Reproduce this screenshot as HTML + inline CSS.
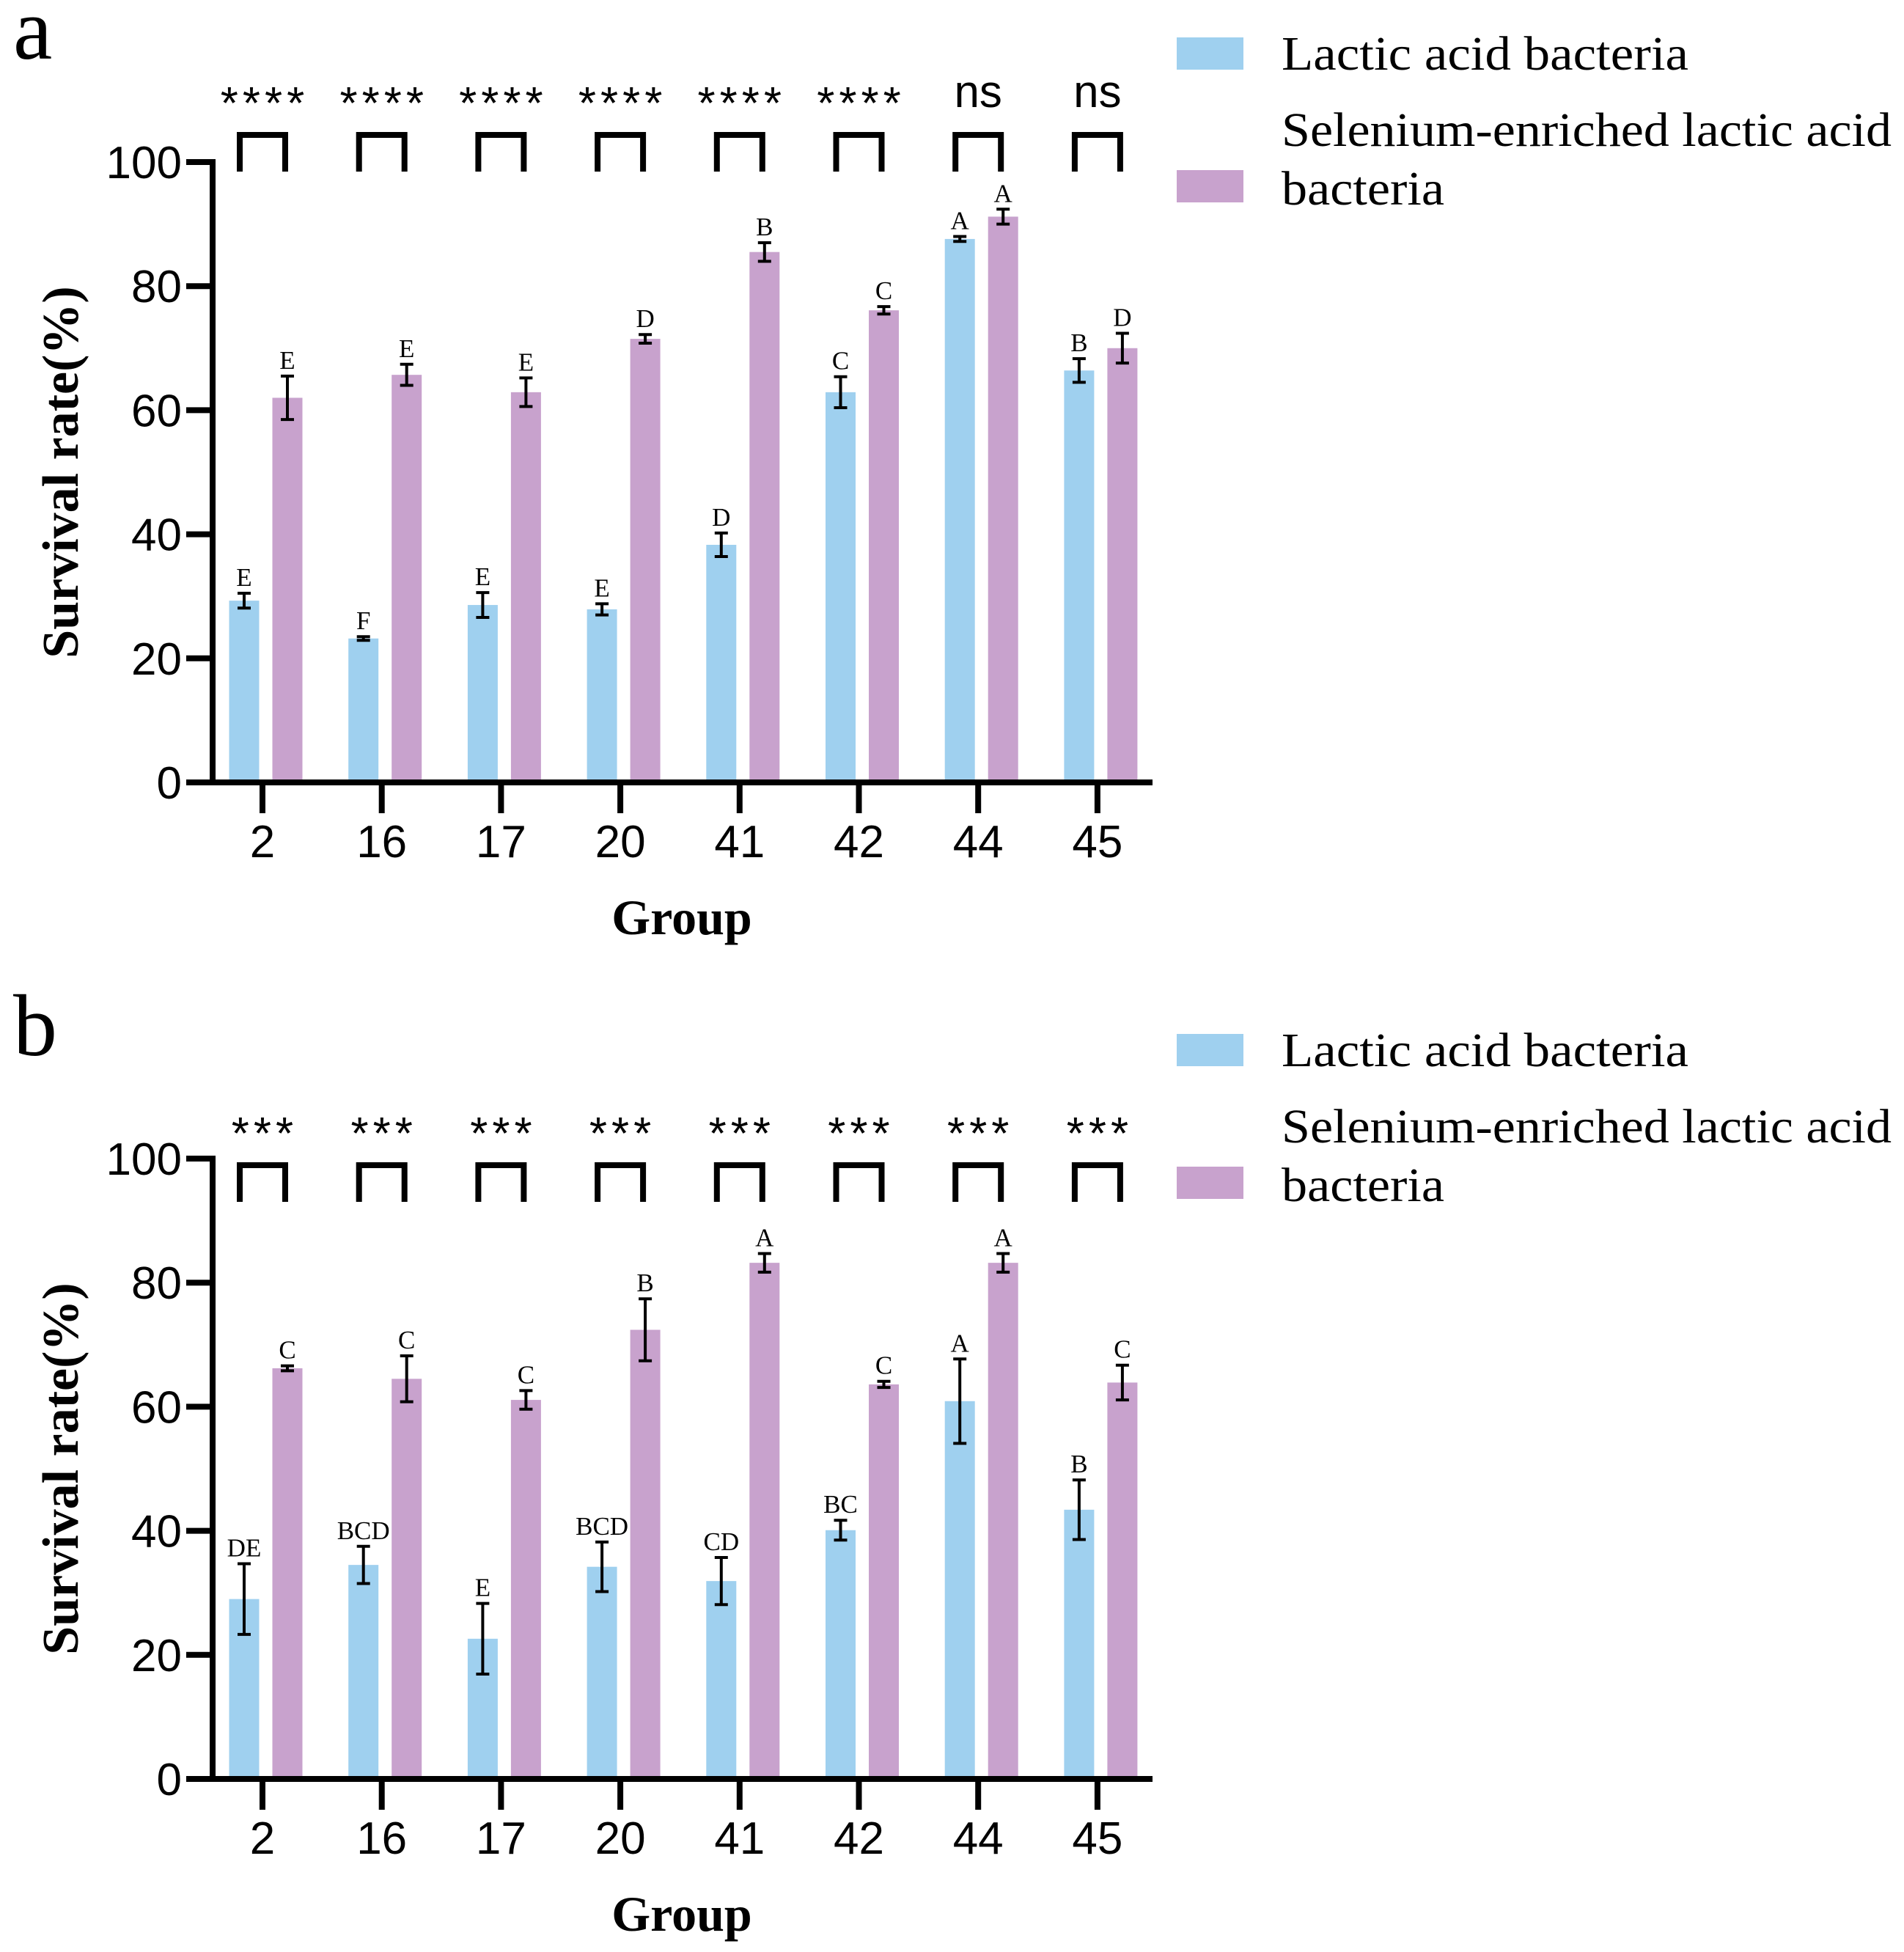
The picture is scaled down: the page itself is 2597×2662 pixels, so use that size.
<!DOCTYPE html>
<html><head><meta charset="utf-8">
<style>
html,body{margin:0;padding:0;background:#fff;}
svg{display:block;}
.tick{font-family:"Liberation Sans","DejaVu Sans",sans-serif;font-size:62px;fill:#000;}
.serif{font-family:"Liberation Serif",serif;fill:#000;}
</style></head>
<body>
<svg id="chart" width="2597" height="2662" viewBox="0 0 2597 2662" xmlns="http://www.w3.org/2000/svg"></svg>
<script>
const groups = ["2","16","17","20","41","42","44","45"];
const yTicks = [0,20,40,60,80,100];
const aBlue = [29.3,23.2,28.6,27.9,38.3,62.9,87.6,66.4];
const aBlueErr = [1.2,0.3,2.0,0.9,1.9,2.5,0.4,1.9];
const aPurple = [62.0,65.7,62.9,71.5,85.5,76.1,91.2,70.0];
const aPurpleErr = [3.5,1.7,2.3,0.7,1.5,0.6,1.2,2.4];
const aBlueLetters = ["E","F","E","E","D","C","A","B"];
const aPurpleLetters = ["E","E","E","D","B","C","A","D"];
const aSig = ["****","****","****","****","****","****","ns","ns"];
const bBlue = [29.0,34.5,22.6,34.2,31.9,40.1,60.9,43.4];
const bBlueErr = [5.7,3.0,5.7,4.0,3.8,1.6,6.8,4.8];
const bPurple = [66.2,64.5,61.1,72.4,83.2,63.6,83.2,63.9];
const bPurpleErr = [0.4,3.7,1.5,5.0,1.5,0.5,1.5,2.8];
const bBlueLetters = ["DE","BCD","E","BCD","CD","BC","A","B"];
const bPurpleLetters = ["C","C","C","B","A","C","A","C"];
const bSig = ["***","***","***","***","***","***","***","***"];

const NS = "http://www.w3.org/2000/svg";
const svg = document.getElementById("chart");
const BLUE = "#9fd0ef", PURPLE = "#c8a2cd";
function el(tag, attrs, parent, text){
  const e = document.createElementNS(NS, tag);
  for (const k in attrs) e.setAttribute(k, attrs[k]);
  if (text !== undefined) e.textContent = text;
  (parent || svg).appendChild(e);
  return e;
}

function panel(off, letter, blue, blueErr, purple, purpleErr, bl, pl, sig, bracketTop){
  const g = el("g", {});
  
  
  const y0 = 1067 + off, y100 = 221 + off, axX = 290;
  const yS = v => y0 - (y0 - y100) * v / 100;
  const xS = i => 358 + i * 162.7;

  const pl_ = el("text", {x: 18, y: 80 + off, class: "serif", "font-size": 120}, g, letter);
  
  

  groups.forEach((c, i) => {
    const cx = xS(i);
    [[blue, blueErr, bl, BLUE, -25, 'lactic'], [purple, purpleErr, pl, PURPLE, 34, 'selenium']].forEach(s => {
      const v = s[0][i], e = s[1][i], bx = cx + s[4];
      const r = el("rect", {x: bx - 20.5, y: yS(v), width: 41, height: y0 - yS(v), fill: s[3]}, g);
      
      
      const eb = el("path", {d: `M${bx-9},${yS(v+e)}H${bx+9}M${bx},${yS(v+e)}V${yS(v-e)}M${bx-9},${yS(v-e)}H${bx+9}`, stroke: "#000", "stroke-width": 4, fill: "none"}, g);
      
      
      const t = el("text", {x: bx, y: yS(v+e) - 10, class: "serif", "font-size": 35, "text-anchor": "middle"}, g, s[2][i]);
      
      
    });
    const bt = bracketTop + off, bb = bt + 54;
    const br = el("path", {d: `M${cx-31},${bb}V${bt+4}H${cx+31}V${bb}`, stroke: "#000", "stroke-width": 8, fill: "none"}, g);
    
    
    const isNs = sig[i] === "ns";
    const st = el("text", {x: cx + (isNs ? 0 : 3), y: isNs ? bt - 34 : bt - 18, "text-anchor": "middle", class: "tick",
      "font-size": isNs ? 66 : 40, "letter-spacing": isNs ? 0 : 6}, g, sig[i]);
    
    
    const xt = el("line", {x1: cx, y1: y0, x2: cx, y2: y0 + 42, stroke: "#000", "stroke-width": 8}, g);
    
    
    const xl = el("text", {x: cx, y: y0 + 102, "text-anchor": "middle", class: "tick"}, g, c);
    
    
  });

  const ya = el("line", {x1: axX, y1: y100 - 4, x2: axX, y2: y0 + 4, stroke: "#000", "stroke-width": 8}, g);
  
  
  const xa = el("line", {x1: 254, y1: y0, x2: 1572, y2: y0, stroke: "#000", "stroke-width": 8}, g);
  
  
  yTicks.forEach(v => {
    const t = el("line", {x1: 254, y1: yS(v), x2: axX, y2: yS(v), stroke: "#000", "stroke-width": 8}, g);
    
    
    const l = el("text", {x: 248, y: yS(v) + 22, "text-anchor": "end", class: "tick"}, g, String(v));
    
    
  });
  const yt = el("text", {x: 0, y: 0, class: "serif", "font-size": 70, "font-weight": "bold", "text-anchor": "middle",
    transform: `translate(106,${(y0 + y100) / 2}) rotate(-90)`}, g, "Survival rate(%)");
  
  
  const xt2 = el("text", {x: 930, y: y0 + 207, class: "serif", "font-size": 68, "font-weight": "bold", "text-anchor": "middle"}, g, "Group");
  
  

  const s1 = el("rect", {x: 1605, y: 51 + off, width: 91, height: 44, fill: BLUE}, g);
  
  
  const t1 = el("text", {x: 1748, y: 95 + off, class: "serif", "font-size": 66, textLength: 555, lengthAdjust: "spacingAndGlyphs"}, g, "Lactic acid bacteria");
  
  
  const s2 = el("rect", {x: 1605, y: 232 + off, width: 91, height: 44, fill: PURPLE}, g);
  
  
  const t2 = el("text", {x: 1748, y: 199 + off, class: "serif", "font-size": 66, textLength: 832, lengthAdjust: "spacingAndGlyphs"}, g, "Selenium-enriched lactic acid");
  
  
  const t3 = el("text", {x: 1748, y: 279 + off, class: "serif", "font-size": 66, textLength: 222, lengthAdjust: "spacingAndGlyphs"}, g, "bacteria");
  
  
}

panel(0, "a", aBlue, aBlueErr, aPurple, aPurpleErr, aBlueLetters, aPurpleLetters, aSig, 180);
panel(1359, "b", bBlue, bBlueErr, bPurple, bPurpleErr, bBlueLetters, bPurpleLetters, bSig, 226);
</script>
</body></html>
